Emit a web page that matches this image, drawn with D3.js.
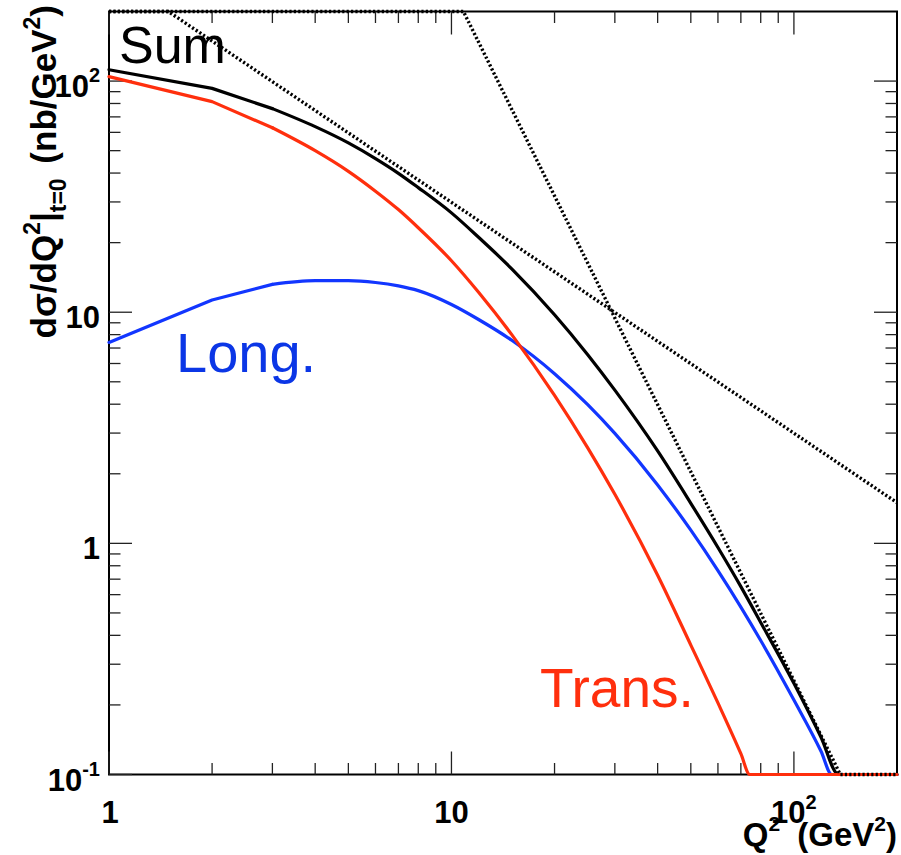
<!DOCTYPE html>
<html>
<head>
<meta charset="utf-8">
<script src="https://cdn.jsdelivr.net/npm/d3@7"></script>
<style>
  html, body { margin: 0; padding: 0; background: #fff; }
  svg { display: block; font-family: "Liberation Sans", Arial, Helvetica, sans-serif; }
</style>
</head>
<body>
<svg id="chart" width="901" height="855"></svg>
<script>
// ---------------- data ----------------
const qLong     = [1, 2, 3, 4, 5, 6, 7, 8, 10, 12, 15, 20, 25, 30, 40, 50, 60, 70, 80, 100, 120, 129, 150, 200];
const sigmaLong = [7.4, 11.3, 13.2, 13.7, 13.7, 13.45, 13.0, 12.4, 10.8, 9.3, 7.56, 5.42, 3.98, 2.99, 1.79, 1.14, 0.762, 0.53, 0.38, 0.21, 0.126, 0.1, 0.064, 0.02];

const qTrans     = [1, 2, 3, 4, 5, 6, 7, 8, 10, 12, 15, 20, 25, 30, 40, 50, 60, 70, 74.3, 80, 100, 150, 200];
const sigmaTrans = [104.5, 81.5, 62.8, 50, 40.7, 33.4, 27.8, 23.2, 16.7, 12.2, 8.0, 4.37, 2.59, 1.63, 0.728, 0.363, 0.204, 0.123, 0.1, 0.079, 0.04, 0.01, 0.004];

const qSum     = [1, 2, 3, 4, 5, 6, 7, 8, 10, 12, 15, 20, 25, 30, 40, 50, 60, 70, 80, 100, 120, 135, 150, 200];
const sigmaSum = [112, 93, 76, 63.5, 54, 46.2, 39.9, 34.6, 26.9, 21.1, 15.4, 9.75, 6.55, 4.6, 2.51, 1.49, 0.96, 0.65, 0.455, 0.248, 0.145, 0.1, 0.08, 0.04];

// dotted asymptotes (power laws), break points
const qAsymA     = [1, 1.49, 200];
const sigmaAsymA = [300, 200, 1.5];
const qAsymB     = [1, 10.84, 136.6, 200];
const sigmaAsymB = [255000, 200, 0.1, 0.032];

// axes
const xDomain = [1, 200];
const yDomain = [0.1, 200];
const xMajorTicks = [1, 10, 100];
const xMinorTicks = [2, 3, 4, 5, 6, 7, 8, 9, 20, 30, 40, 50, 60, 70, 80, 90];
const yMajorTicks = [0.1, 1, 10, 100];
const yMinorTicks = [0.2, 0.3, 0.4, 0.5, 0.6, 0.7, 0.8, 0.9, 2, 3, 4, 5, 6, 7, 8, 9, 20, 30, 40, 50, 60, 70, 80, 90];
const xTickLabels = [{b: "1", s: ""}, {b: "10", s: ""}, {b: "10", s: "2"}];
const yTickLabels = [{b: "10", s: "-1"}, {b: "1", s: ""}, {b: "10", s: ""}, {b: "10", s: "2"}];

// ---------------- drawing ----------------
const svg = d3.select("#chart");
const L = 109, R = 897, T = 11.5, B = 774.5;

const x = d3.scaleLog().domain(xDomain).range([L, R]);
const y = d3.scaleLog().domain(yDomain).range([B, T]).clamp(true);

svg.append("rect").attr("width", 901).attr("height", 855).attr("fill", "#fff");

// frame
svg.append("rect").attr("x", L).attr("y", T).attr("width", R - L).attr("height", B - T)
  .attr("fill", "none").attr("stroke", "#000").attr("stroke-width", 2);

// ticks
const tg = svg.append("g").attr("stroke", "#222").attr("stroke-width", 1.3);
function xTick(v, len) {
  tg.append("line").attr("x1", x(v)).attr("x2", x(v)).attr("y1", B).attr("y2", B - len);
  tg.append("line").attr("x1", x(v)).attr("x2", x(v)).attr("y1", T).attr("y2", T + len);
}
function yTick(v, len) {
  tg.append("line").attr("y1", y(v)).attr("y2", y(v)).attr("x1", L).attr("x2", L + len);
  tg.append("line").attr("y1", y(v)).attr("y2", y(v)).attr("x1", R).attr("x2", R - len);
}
xMajorTicks.forEach(v => xTick(v, 23));
xMinorTicks.forEach(v => xTick(v, 11.5));
yMajorTicks.forEach(v => yTick(v, 23));
yMinorTicks.forEach(v => yTick(v, 11.5));

// tick labels
function richLabel(g, lab, supSize, raise) {
  g.append("tspan").text(lab.b);
  if (lab.s) {
    g.append("tspan").attr("font-size", supSize).attr("dy", -raise).text(lab.s);
  }
}
xMajorTicks.forEach((v, i) => {
  const t = svg.append("text").attr("x", x(v) + (i === 0 ? 1 : 0)).attr("y", 823)
    .attr("text-anchor", "middle").attr("font-size", 31).attr("font-weight", "bold");
  richLabel(t, xTickLabels[i], 20, 14);
});
yMajorTicks.forEach((v, i) => {
  const t = svg.append("text").attr("x", 100).attr("y", y(v) + 16)
    .attr("text-anchor", "end").attr("font-size", 31).attr("font-weight", "bold");
  richLabel(t, yTickLabels[i], 20, 15);
});

// axis titles
const xt = svg.append("text").attr("x", 897).attr("y", 846).attr("text-anchor", "end")
  .attr("font-size", 33).attr("font-weight", "bold");
xt.append("tspan").text("Q");
xt.append("tspan").attr("font-size", 21).attr("dy", -15).text("2");
xt.append("tspan").attr("dy", 15).attr("dx", 8).text(" (GeV");
xt.append("tspan").attr("font-size", 21).attr("dy", -15).text("2");
xt.append("tspan").attr("dy", 15).text(")");

const yt = svg.append("text").attr("transform", "translate(56,5) rotate(-90)")
  .attr("text-anchor", "end").attr("font-size", 35).attr("font-weight", "bold");
yt.append("tspan").text("dσ/dQ");
yt.append("tspan").attr("font-size", 23).attr("dy", -16).text("2");
yt.append("tspan").attr("dy", 16).text("|");
yt.append("tspan").attr("font-size", 23).attr("dy", 10).text("t=0");
yt.append("tspan").attr("dy", -10).attr("dx", 5).text(" (nb/GeV");
yt.append("tspan").attr("font-size", 23).attr("dy", -16).text("2");
yt.append("tspan").attr("dy", 16).text(")");

// curves: straight segments between the first samples, smooth afterwards
const zip = (a, b) => a.map((v, i) => [v, b[i]]);
const lin = d3.line().x(d => x(d[0])).y(d => y(d[1]));
const smooth = d3.line().x(d => x(d[0])).y(d => y(d[1])).curve(d3.curveMonotoneX);
function drawCurve(qs, vs, color) {
  const pts = zip(qs, vs);
  const k = qs.indexOf(3);
  const g = svg.append("g").attr("fill", "none").attr("stroke", color).attr("stroke-width", 3.2)
    .attr("stroke-linejoin", "round").attr("stroke-linecap", "round");
  g.append("path").attr("d", lin(pts.slice(0, k + 1)));
  g.append("path").attr("d", smooth(pts.slice(k)));
}

const RED = "#ff2f0d", BLUE = "#1236ff";
drawCurve(qLong, sigmaLong, BLUE);
drawCurve(qSum, sigmaSum, "#000");
drawCurve(qTrans, sigmaTrans, RED);

svg.append("path").attr("d", lin(zip(qAsymA, sigmaAsymA))).attr("fill", "none")
  .attr("stroke", "#000").attr("stroke-width", 3.4).attr("stroke-dasharray", "2.2,2.2");
svg.append("path").attr("d", lin(zip(qAsymB, sigmaAsymB))).attr("fill", "none")
  .attr("stroke", "#000").attr("stroke-width", 3.4).attr("stroke-dasharray", "2.2,2.2");

// curve labels
svg.append("text").attr("x", 119).attr("y", 63).attr("font-size", 52).attr("fill", "#000").text("Sum");
svg.append("text").attr("x", 176).attr("y", 372).attr("font-size", 56).attr("fill", "#0b36e6").text("Long.");
svg.append("text").attr("x", 540).attr("y", 707).attr("font-size", 55).attr("fill", RED).text("Trans.");
</script>
</body>
</html>
